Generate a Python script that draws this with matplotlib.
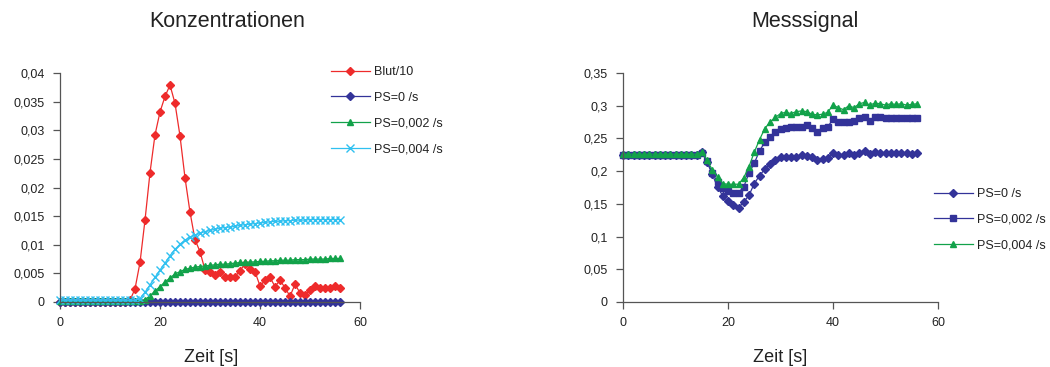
import numpy as np
import matplotlib
matplotlib.use("Agg")
import matplotlib.pyplot as plt

plt.rcParams['font.family'] = ['Liberation Sans', 'DejaVu Sans']

# --- data ---
zeit = list(range(0, 57))

blut10 = [0]*14 + [0.0003, 0.0023, 0.0069, 0.0143, 0.0226, 0.0292, 0.0332, 0.0359,
          0.0379, 0.0347, 0.0290, 0.0217, 0.0157, 0.0109, 0.0088, 0.0056,
          0.0052, 0.0048, 0.0052, 0.0044, 0.0044, 0.0044, 0.0055, 0.0066,
          0.0058, 0.0053, 0.0028, 0.0038, 0.0043, 0.0027, 0.0038, 0.0025,
          0.0010, 0.0031, 0.0016, 0.0012, 0.0021, 0.0028, 0.0024, 0.0024,
          0.0025, 0.0028, 0.0024]
ps0_konz = [0.0]*57
ps002_konz = [0.0002]*17 + [0.0004, 0.0011, 0.0019, 0.0027, 0.0035, 0.0042, 0.0049,
              0.0053, 0.0057, 0.0059, 0.0061, 0.0062, 0.0063, 0.0064, 0.0065,
              0.0066, 0.0066, 0.0067, 0.0068, 0.0069, 0.0069, 0.0070, 0.0070,
              0.0071, 0.0071, 0.0072, 0.0072, 0.0073, 0.0073, 0.0073, 0.0074,
              0.0074, 0.0074, 0.0075, 0.0075, 0.0075, 0.0075, 0.0076, 0.0076,
              0.0076]
ps004_konz = [0.0003]*16 + [0.0006, 0.0017, 0.0030, 0.0043, 0.0056, 0.0068, 0.0081,
              0.0092, 0.0101, 0.0108, 0.0113, 0.0117, 0.0120, 0.0123, 0.0125,
              0.0127, 0.0129, 0.0130, 0.0131, 0.0132, 0.0134, 0.0135, 0.0136,
              0.0137, 0.0138, 0.0139, 0.0140, 0.0141, 0.0141, 0.0142, 0.0142,
              0.0143, 0.0143, 0.0143, 0.0144, 0.0144, 0.0144, 0.0144, 0.0144,
              0.0144, 0.0144]

ps0_mess = [0.225]*15 + [0.229, 0.214, 0.195, 0.176, 0.162, 0.154, 0.148, 0.144,
            0.153, 0.163, 0.181, 0.193, 0.203, 0.211, 0.217, 0.221, 0.221,
            0.221, 0.222, 0.224, 0.223, 0.221, 0.217, 0.219, 0.220, 0.228,
            0.225, 0.225, 0.227, 0.225, 0.228, 0.231, 0.226, 0.230, 0.228,
            0.227, 0.228, 0.227, 0.228, 0.228, 0.226, 0.228]
ps002_mess = [0.225]*15 + [0.228, 0.216, 0.197, 0.184, 0.174, 0.170, 0.167, 0.167,
              0.176, 0.197, 0.212, 0.231, 0.244, 0.252, 0.260, 0.264, 0.266,
              0.267, 0.268, 0.268, 0.270, 0.266, 0.260, 0.266, 0.268, 0.279,
              0.275, 0.275, 0.275, 0.276, 0.281, 0.283, 0.277, 0.282, 0.282,
              0.281, 0.281, 0.281, 0.281, 0.281, 0.281, 0.281]
ps004_mess = [0.226]*15 + [0.229, 0.217, 0.202, 0.191, 0.181, 0.180, 0.180, 0.180,
              0.190, 0.207, 0.229, 0.248, 0.265, 0.275, 0.282, 0.288, 0.290,
              0.288, 0.291, 0.292, 0.291, 0.287, 0.286, 0.287, 0.290, 0.301,
              0.297, 0.294, 0.300, 0.297, 0.303, 0.305, 0.301, 0.304, 0.303,
              0.301, 0.303, 0.302, 0.303, 0.301, 0.302, 0.303]

xticks = [0, 20, 40, 60]
yticks_konz = [0, 0.005, 0.01, 0.015, 0.02, 0.025, 0.03, 0.035, 0.04]
ylabels_konz = ['0', '0,005', '0,01', '0,015', '0,02', '0,025', '0,03', '0,035', '0,04']
yticks_mess = [0, 0.05, 0.1, 0.15, 0.2, 0.25, 0.3, 0.35]
ylabels_mess = ['0', '0,05', '0,1', '0,15', '0,2', '0,25', '0,3', '0,35']

RED = '#ee2b2b'
NAVY = '#333399'
GREEN = '#12a24a'
CYAN = '#2fc0f0'
TXT = '#222222'

fig = plt.figure(figsize=(10.5, 3.67), dpi=100)
ax1 = fig.add_axes([60/1050, 1-302/367, 300/1050, 229/367])
ax2 = fig.add_axes([623/1050, 1-302/367, 315/1050, 229/367])


def style(ax, yt, yl, ymax):
    ax.set_xlim(0, 60)
    ax.set_ylim(0, ymax)
    ax.set_xticks(xticks)
    ax.set_xticklabels([str(x) for x in xticks])
    ax.set_yticks(yt)
    ax.set_yticklabels(yl)
    ax.spines['top'].set_visible(False)
    ax.spines['right'].set_visible(False)
    for s in ('left', 'bottom'):
        ax.spines[s].set_linewidth(0.9)
        ax.spines[s].set_color('#555555')
    ax.tick_params(direction='out', length=5, width=0.9, labelsize=9,
                   color='#555555', labelcolor=TXT)
    ax.tick_params(axis='y', pad=6)
    ax.tick_params(axis='x', pad=6)


lw = 0.9
ms = 3.8
ax1.plot(zeit, blut10, color=RED, marker='D', ms=ms, lw=lw, label='Blut/10', clip_on=False)
ax1.plot(zeit, ps0_konz, color=NAVY, marker='D', ms=ms, lw=lw, label='PS=0 /s', clip_on=False)
ax1.plot(zeit, ps002_konz, color=GREEN, marker='^', ms=ms+1, lw=lw, label='PS=0,002 /s', clip_on=False)
ax1.plot(zeit, ps004_konz, color=CYAN, marker='x', ms=ms+1.5, mew=1.0, lw=lw, label='PS=0,004 /s', clip_on=False)
style(ax1, yticks_konz, ylabels_konz, 0.04)

ax2.plot(zeit, ps0_mess, color=NAVY, marker='D', ms=ms, lw=lw, label='PS=0 /s', clip_on=False)
ax2.plot(zeit, ps002_mess, color=NAVY, marker='s', ms=ms, lw=lw, label='PS=0,002 /s', clip_on=False)
ax2.plot(zeit, ps004_mess, color=GREEN, marker='^', ms=ms+1, lw=lw, label='PS=0,004 /s', clip_on=False)
style(ax2, yticks_mess, ylabels_mess, 0.35)

leg_kw = dict(frameon=False, fontsize=9, handlelength=3.1, handletextpad=0.35,
              labelspacing=1.1, borderpad=0, borderaxespad=0, labelcolor=TXT)
fig.legend(*ax1.get_legend_handles_labels(), loc='upper left',
           bbox_to_anchor=(331/1050, 1-66/367), **leg_kw)
fig.legend(*ax2.get_legend_handles_labels(), loc='upper left',
           bbox_to_anchor=(934/1050, 1-188/367), **leg_kw)

fig.text(227/1050, 1-27/367, 'Konzentrationen', ha='center', va='baseline', fontsize=15.5, color=TXT)
fig.text(805/1050, 1-27/367, 'Messsignal', ha='center', va='baseline', fontsize=15.5, color=TXT)
fig.text(211/1050, 1-362/367, 'Zeit [s]', ha='center', va='baseline', fontsize=13, color=TXT)
fig.text(780/1050, 1-362/367, 'Zeit [s]', ha='center', va='baseline', fontsize=13, color=TXT)

fig.savefig('out.png', dpi=100)
